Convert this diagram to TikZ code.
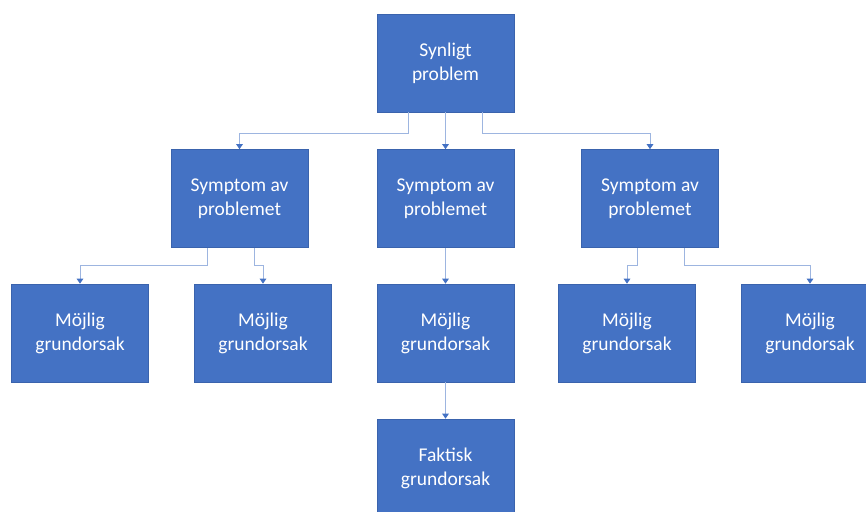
\documentclass[tikz,border=0pt]{standalone}
\usepackage{fontspec}
\setmainfont{Carlito}
\usetikzlibrary{arrows.meta}
\definecolor{boxfill}{HTML}{4472C4}
\definecolor{boxedge}{HTML}{3A63AD}
\definecolor{linkcol}{HTML}{9DB5E0}
\definecolor{tipcol}{HTML}{4472C4}
\begin{document}
\begin{tikzpicture}[x=1pt,y=-1pt,
  card/.style={rectangle,draw=boxedge,line width=0.6pt,fill=boxfill,
    minimum width=137pt,minimum height=98pt,inner sep=2pt,
    text=white,align=center,
    font=\fontsize{19.5pt}{24pt}\selectfont},
  link/.style={draw=linkcol,line width=1pt,
    -{Triangle[length=5pt,width=6.5pt,color=tipcol]}}]
\clip (0,0) rectangle (866,511);
\fill[white] (0,0) rectangle (866,511);

% root
\node[card] (root) at (445.5,63) {Synligt\\problem};

% symptoms
\node[card] (s1) at (239.5,198.5) {Symptom av\\problemet};
\node[card] (s2) at (445.5,198.5) {Symptom av\\problemet};
\node[card] (s3) at (650,198.5) {Symptom av\\problemet};

% possible causes
\node[card] (c1) at (80,333) {Möjlig\\grundorsak};
\node[card] (c2) at (263,333) {Möjlig\\grundorsak};
\node[card] (c3) at (445.5,333) {Möjlig\\grundorsak};
\node[card] (c4) at (627,333) {Möjlig\\grundorsak};
\node[card] (c5) at (810,333) {Möjlig\\grundorsak};

% actual cause
\node[card] (f) at (445.5,468) {Faktisk\\grundorsak};

% root -> symptoms
\draw[link] ([xshift=-37.5pt]root.south) -- ++(0,21) -| (s1.north);
\draw[link] (root.south) -- (s2.north);
\draw[link] ([xshift=36.5pt]root.south) -- ++(0,21) -| (s3.north);

% symptoms -> causes
\draw[link] ([xshift=-32.5pt]s1.south) -- ++(0,18) -| (c1.north);
\draw[link] ([xshift=14.5pt]s1.south) -- ++(0,18) -| (c2.north);
\draw[link] (s2.south) -- (c3.north);
\draw[link] ([xshift=-13pt]s3.south) -- ++(0,18) -| (c4.north);
\draw[link] ([xshift=34pt]s3.south) -- ++(0,18) -| (c5.north);

% cause -> actual cause
\draw[link] (c3.south) -- (f.north);
\end{tikzpicture}
\end{document}
